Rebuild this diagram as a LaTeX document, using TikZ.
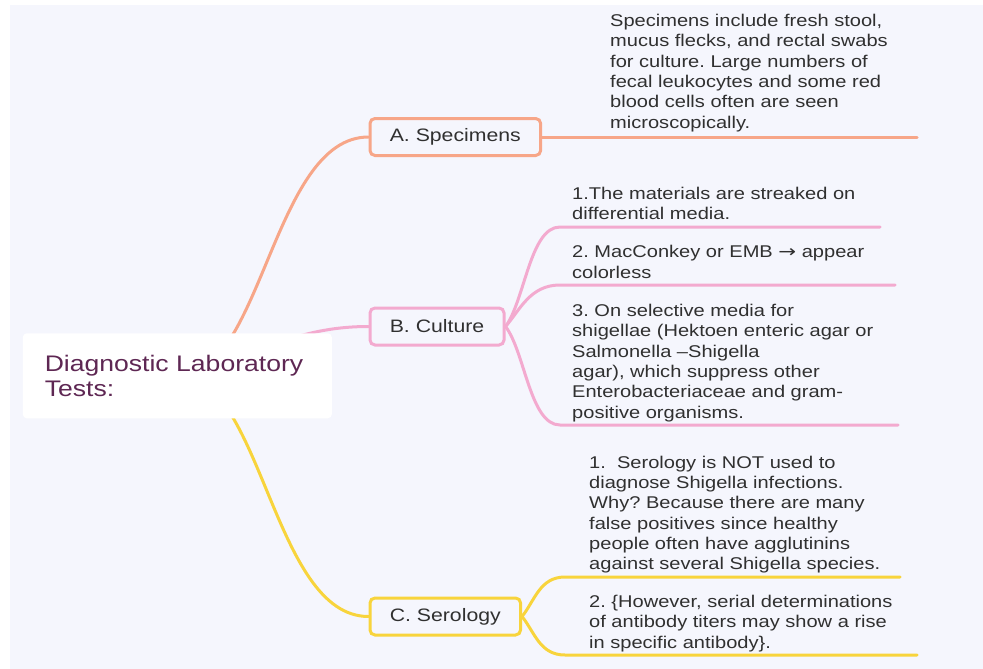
\documentclass[tikz,border=0pt]{standalone}
\usepackage{fontspec}
\setmainfont{Liberation Sans}[FakeStretch=1.18]
\newfontfamily\arrowfont{DejaVu Sans}[FakeStretch=1.25]
\frenchspacing
\usetikzlibrary{calc,positioning}

\definecolor{bgpaper}{HTML}{F5F6FD}
\definecolor{orangeline}{HTML}{F7A688}
\definecolor{pinkline}{HTML}{F3AACF}
\definecolor{yellowline}{HTML}{F8D43C}
\definecolor{titlepurple}{HTML}{5E2753}
\definecolor{textgray}{HTML}{303030}

\pgfdeclarelayer{back}
\pgfdeclarelayer{links}
\pgfsetlayers{back,links,main}

\tikzset{
  topic/.style={draw,line width=3pt,rounded corners=5pt,fill=bgpaper,anchor=west,
    minimum height=37pt,inner xsep=19.8pt,text=textgray,
    font=\fontsize{18}{21}\selectfont},
  note/.style={anchor=south west,inner sep=0pt,align=left,text=textgray,
    font=\fontsize{17}{20.3}\selectfont,execute at end node=\strut},
  link/.style={line width=3pt,line cap=round}
}

\begin{document}
\begin{tikzpicture}[x=1pt,y=-1pt]

\useasboundingbox (0,0) rectangle (983,669);
\begin{pgfonlayer}{back}
\fill[bgpaper] (10,5) rectangle (983,669);
\end{pgfonlayer}

\node[fill=white,rounded corners=4pt,minimum width=309pt,minimum height=85pt,
  align=left,text width=265pt,text=titlepurple,
  font=\fontsize{22.5}{25.5}\selectfont] (root) at (177.3,375.8)
  {Diagnostic Laboratory\\Tests:};

\node[topic,draw=orangeline] (spec) at (368.5,137) {A. Specimens};
\node[topic,draw=pinkline] (cult) at (368.5,326.5) {B. Culture};
\node[topic,draw=yellowline] (sero) at (368.5,616.5) {C. Serology};

% ends of the branch lines
\coordinate (s1) at (917,137);
\coordinate (c1a) at (560,227);
\coordinate (c1b) at (880,227);
\coordinate (c2a) at (560,285);
\coordinate (c2b) at (895,285);
\coordinate (c3a) at (560,425);
\coordinate (c3b) at (898,425);
\coordinate (r1a) at (565,577);
\coordinate (r1b) at (900,577);
\coordinate (r2a) at (565,655);
\coordinate (r2b) at (917,655);

\begin{pgfonlayer}{links}
\draw[link,orangeline] (root.center) .. controls (262,380) and (272,137) .. (spec.west);
\draw[link,pinkline] (root.center) .. controls (250,360) and (290,326.5) .. (cult.west);
\draw[link,yellowline] (root.center) .. controls (262,372) and (272,616.5) .. (sero.west);

\draw[link,orangeline] (spec.east) -- (s1);

\draw[link,pinkline] (cult.east) .. controls (525,300) and (530,227) .. (c1a) -- (c1b);
\draw[link,pinkline] (cult.east) .. controls (520,310) and (530,285) .. (c2a) -- (c2b);
\draw[link,pinkline] (cult.east) .. controls (525,352) and (530,425) .. (c3a) -- (c3b);

\draw[link,yellowline] (sero.east) .. controls (535,600) and (540,577) .. (r1a) -- (r1b);
\draw[link,yellowline] (sero.east) .. controls (535,633) and (540,655) .. (r2a) -- (r2b);
\end{pgfonlayer}

\node[note] (spectext) at (610,134.4)
  {Specimens include fresh stool,\\mucus flecks, and rectal swabs\\for culture. Large numbers of\\fecal leukocytes and some red\\blood cells often are seen\\microscopically.};

\node[note] (cult1) at (572,226.1)
  {1.The materials are streaked on\\differential media.};
\node[note] (cult2) at (572,284.4)
  {2. MacConkey or EMB {\arrowfont →} appear\\colorless};
\node[note] (cult3) at (572,424.4)
  {3. On selective media for\\shigellae (Hektoen enteric agar or\\Salmonella –Shigella\\agar), which suppress other\\Enterobacteriaceae and gram-\\positive organisms.};

\node[note] (sero1) at (589,576.1)
  {1.~~Serology is NOT used to\\diagnose Shigella infections.\\Why? Because there are many\\false positives since healthy\\people often have agglutinins\\against several Shigella species.};
\node[note] (sero2) at (589,654.4)
  {2. \{However, serial determinations\\of antibody titers may show a rise\\in specific antibody\}.};

\end{tikzpicture}
\end{document}
